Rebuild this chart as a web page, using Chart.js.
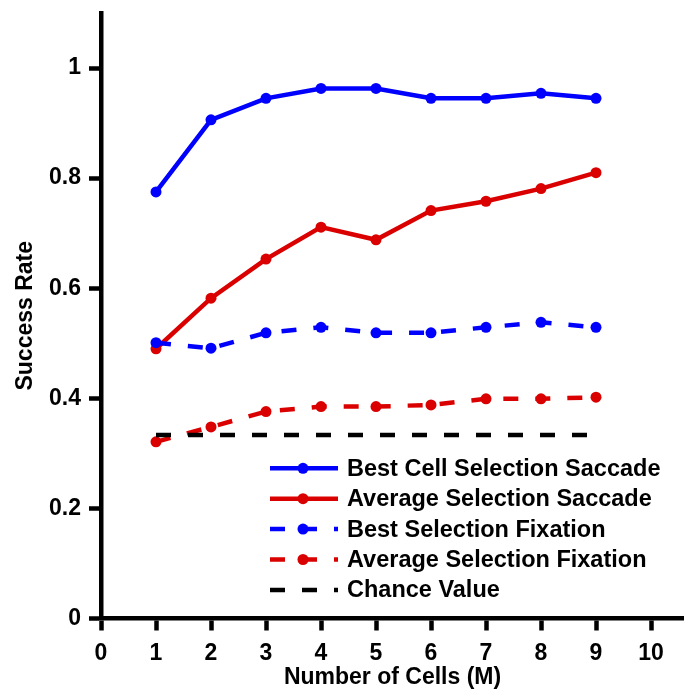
<!DOCTYPE html>
<html><head><meta charset="utf-8">
<script src="https://cdn.jsdelivr.net/npm/chart.js@4/dist/chart.umd.min.js"></script>
<style>html,body{margin:0;padding:0;background:#fff}#wrap{width:684px;height:692px;position:relative}</style>
</head><body><div id="wrap"><canvas id="c" width="684" height="692"></canvas></div>
<script>
const cells = [1, 2, 3, 4, 5, 6, 7, 8, 9];
const bestCellSelectionSaccade = [0.775, 0.906, 0.945, 0.963, 0.963, 0.945, 0.945, 0.954, 0.945];
const averageSelectionSaccade = [0.490, 0.582, 0.653, 0.711, 0.688, 0.741, 0.758, 0.781, 0.810];
const bestSelectionFixation = [0.501, 0.491, 0.519, 0.529, 0.519, 0.519, 0.529, 0.538, 0.529];
const averageSelectionFixation = [0.321, 0.348, 0.376, 0.385, 0.385, 0.388, 0.399, 0.399, 0.402];
const chanceValue = [0.3333, 0.3333, 0.3333, 0.3333, 0.3333, 0.3333, 0.3333, 0.3333, 0.3333];
const seriesNames = ['Best Cell Selection Saccade', 'Average Selection Saccade', 'Best Selection Fixation', 'Average Selection Fixation', 'Chance Value'];
const xTickValues = [0, 1, 2, 3, 4, 5, 6, 7, 8, 9, 10];
const yTickValues = [0, 0.2, 0.4, 0.6, 0.8, 1];

const FONT = 'Liberation Sans, Arial, Helvetica, sans-serif';
const BLUE = '#0000ff', RED = '#da0000', BLACK = '#000000';
const DASH = [15, 17];

function pts(vals) { return cells.map((c, i) => ({ x: c, y: vals[i] })); }
function ds(label, vals, color, dashed, showPts, order) {
  return {
    label, data: pts(vals), borderColor: color, backgroundColor: color,
    borderWidth: 4.5, borderDash: dashed ? DASH : [], borderCapStyle: 'butt',
    pointRadius: showPts ? 5.5 : 0, pointBackgroundColor: color, pointBorderWidth: 0,
    pointHoverRadius: 0, tension: 0, fill: false, order, clip: false
  };
}
function noPad(s) { s.paddingTop = 0; s.paddingBottom = 0; s.paddingLeft = 0; s.paddingRight = 0; }

const legendPlugin = {
  id: 'customLegend',
  afterDraw(chart) {
    const ctx = chart.ctx;
    const x0 = 270, x1 = 338, xm = 303, tx = 347, y0 = 468.3, dy = 30.4;
    chart.data.datasets.forEach((d, i) => {
      const y = y0 + i * dy;
      ctx.save();
      ctx.strokeStyle = d.borderColor; ctx.lineWidth = d.borderWidth;
      ctx.setLineDash(d.borderDash || []); ctx.lineCap = 'butt';
      ctx.beginPath(); ctx.moveTo(x0, y); ctx.lineTo(x1, y); ctx.stroke();
      ctx.setLineDash([]);
      if (d.pointRadius > 0) {
        ctx.fillStyle = d.borderColor; ctx.beginPath();
        ctx.arc(xm, y, d.pointRadius, 0, Math.PI * 2); ctx.fill();
      }
      ctx.fillStyle = '#000'; ctx.font = 'bold 23.5px ' + FONT;
      ctx.textBaseline = 'middle'; ctx.textAlign = 'left';
      ctx.fillText(d.label, tx, y + 1);
      ctx.restore();
    });
  }
};

new Chart(document.getElementById('c'), {
  type: 'line',
  data: {
    datasets: [
      ds(seriesNames[0], bestCellSelectionSaccade, BLUE, false, true, 5),
      ds(seriesNames[1], averageSelectionSaccade, RED, false, true, 4),
      ds(seriesNames[2], bestSelectionFixation, BLUE, true, true, 3),
      ds(seriesNames[3], averageSelectionFixation, RED, true, true, 2),
      ds(seriesNames[4], chanceValue, BLACK, true, false, 1)
    ]
  },
  options: {
    responsive: false, devicePixelRatio: 1, animation: false,
    layout: { autoPadding: false, padding: { top: 13, left: 0, right: 0, bottom: 0 } },
    plugins: { legend: { display: false }, tooltip: { enabled: false } },
    scales: {
      x: {
        type: 'linear', position: 'bottom', min: 0, max: 10.6,
        afterFit(s) { s.height = 73.5; noPad(s); },
        afterBuildTicks(s) { s.ticks = xTickValues.map(v => ({ value: v })); },
        ticks: { color: '#000', font: { family: FONT, size: 23, weight: 'bold' }, padding: 9,
          maxRotation: 0, autoSkip: false, callback: v => String(v) },
        grid: { drawOnChartArea: false, drawTicks: true, tickLength: 12, tickWidth: 4.5, tickColor: '#000' },
        border: { display: true, color: '#000', width: 4.5 },
        title: { display: true, text: 'Number of Cells (M)', color: '#000',
          font: { family: FONT, size: 23, weight: 'bold', lineHeight: 1 }, padding: { top: 0, bottom: 3 } }
      },
      y: {
        type: 'linear', min: 0, max: 1.1,
        afterFit(s) { s.width = 101; noPad(s); },
        afterBuildTicks(s) { s.ticks = yTickValues.map(v => ({ value: v })); },
        ticks: { color: '#000', font: { family: FONT, size: 23, weight: 'bold' }, padding: 8,
          autoSkip: false, callback: v => String(Number(v.toFixed(1))) },
        grid: { drawOnChartArea: false, drawTicks: true, tickLength: 12, tickWidth: 4.5, tickColor: '#000' },
        border: { display: true, color: '#000', width: 4.5 },
        title: { display: true, text: 'Success Rate', color: '#000',
          font: { family: FONT, size: 23, weight: 'bold', lineHeight: 1 }, padding: { top: 14.5, bottom: 0 } }
      }
    }
  },
  plugins: [legendPlugin]
});
</script></body></html>
